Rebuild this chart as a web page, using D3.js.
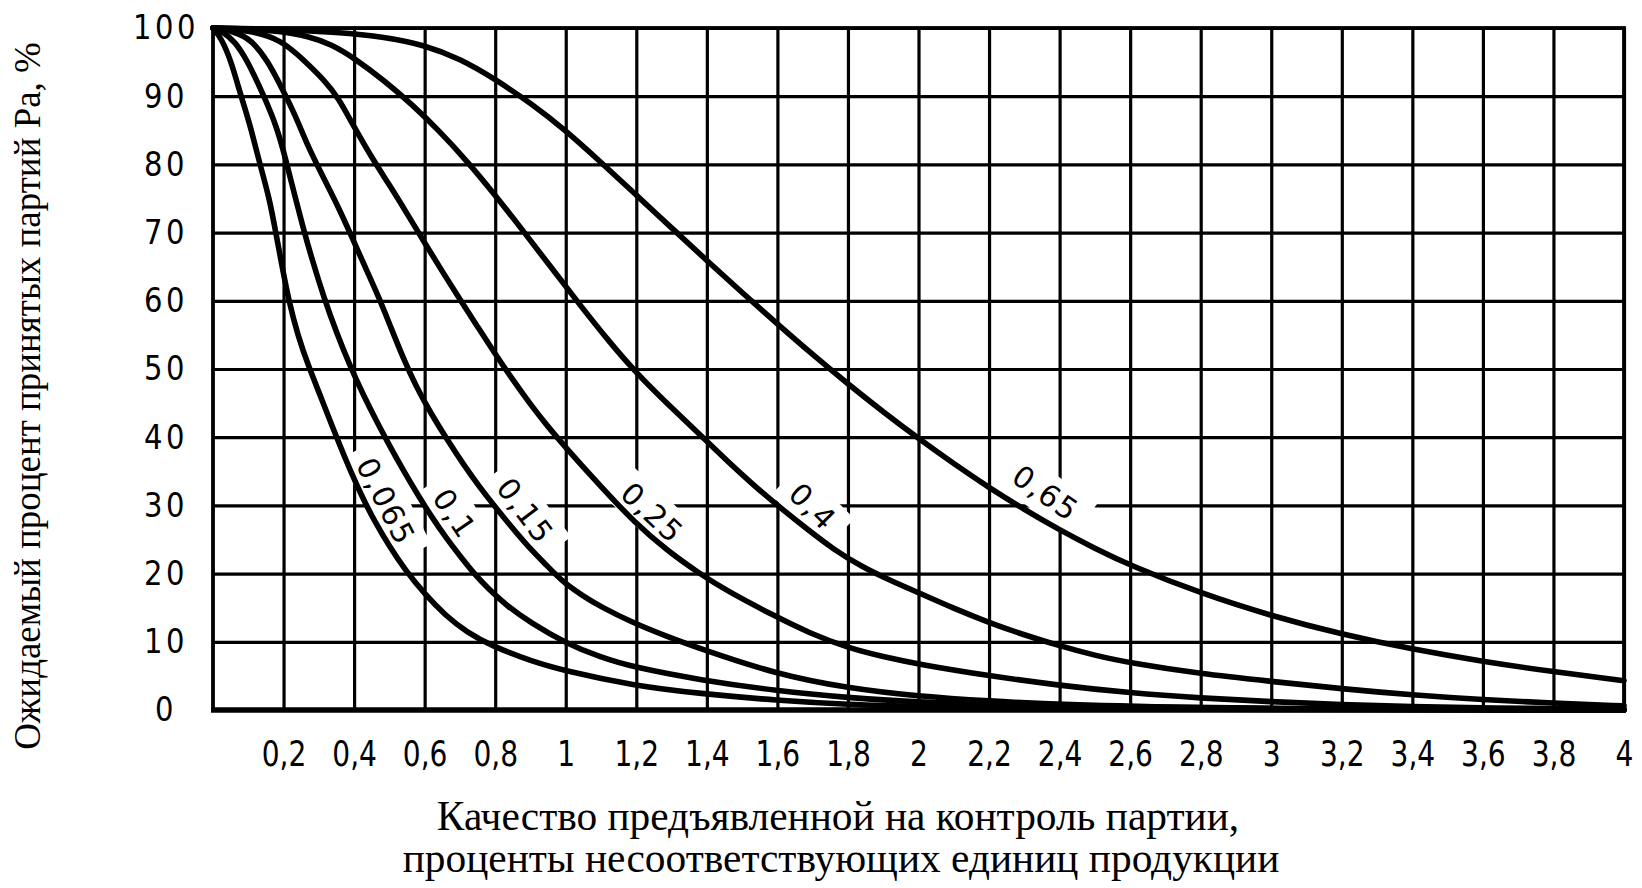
<!DOCTYPE html>
<html><head><meta charset="utf-8">
<script src="https://cdn.jsdelivr.net/npm/d3@7"></script>
<style>
html,body{margin:0;padding:0;background:#fff;}
svg{display:block;}
</style></head>
<body>
<svg id="chart" width="1642" height="888"></svg>
<script>
// ---- data ----
const xTicks = [0.2,0.4,0.6,0.8,1,1.2,1.4,1.6,1.8,2,2.2,2.4,2.6,2.8,3,3.2,3.4,3.6,3.8,4];
const xTickLabels = ["0,2","0,4","0,6","0,8","1","1,2","1,4","1,6","1,8","2","2,2","2,4","2,6","2,8","3","3,2","3,4","3,6","3,8","4"];
const yTicks = [0,10,20,30,40,50,60,70,80,90,100];
const yTickLabels = ["0","10","20","30","40","50","60","70","80","90","100"];
const curveNames = ["0,065","0,1","0,15","0,25","0,4","0,65"];

const aql0065 = [[0,100],[0.024,98.5],[0.052,95],[0.071,91.5],[0.09,88.3],[0.109,85],[0.133,80],[0.16,75],[0.178,70],[0.196,65],[0.215,60],[0.24,55],[0.27,50.5],[0.305,46],[0.35,40],[0.39,35],[0.425,31],[0.46,27.5],[0.5,24],[0.545,20.5],[0.6,17],[0.66,13.8],[0.72,11.4],[0.79,9.4],[0.9,7.2],[1.0,5.7],[1.19,3.6],[1.38,2.4],[1.6,1.4],[1.8,0.8],[2.0,0.5],[2.4,0.2],[3.0,0.05],[4,0]];
const aql01 = [[0,100],[0.03,99.4],[0.062,98],[0.09,95.8],[0.114,93.4],[0.147,89.7],[0.18,85.6],[0.205,81],[0.23,75.8],[0.255,70.8],[0.28,66.2],[0.313,60.7],[0.351,55.2],[0.389,50.4],[0.426,46.2],[0.464,42.3],[0.5,38.8],[0.54,35.1],[0.58,31.6],[0.62,28.3],[0.66,25.3],[0.7,22.6],[0.74,20],[0.78,17.8],[0.83,15.4],[0.9,12.8],[1.0,9.8],[1.1,7.7],[1.19,6.3],[1.38,4.4],[1.6,2.8],[1.8,1.8],[2.0,1.1],[2.4,0.5],[3.0,0.15],[4,0]];
const aql015 = [[0,100],[0.06,99.5],[0.109,98.3],[0.156,95.1],[0.194,91.3],[0.232,87.4],[0.27,82.5],[0.308,78.6],[0.355,73.8],[0.389,69.9],[0.422,66],[0.469,60.7],[0.505,56],[0.54,51.5],[0.575,47.5],[0.62,43.3],[0.663,39.7],[0.71,36],[0.757,32.6],[0.795,30.1],[0.842,27.1],[0.889,24.2],[0.946,21.2],[0.993,18.7],[1.05,16.7],[1.097,15.2],[1.19,12.8],[1.286,10.8],[1.38,9],[1.6,5.2],[1.8,3.2],[2.0,2.0],[2.2,1.3],[2.4,0.8],[2.8,0.3],[3.4,0.05],[4,0]];
const aql025 = [[0,100],[0.1,99.7],[0.194,98.3],[0.261,95.1],[0.318,92.2],[0.355,89.8],[0.4,85.5],[0.45,81],[0.5,77],[0.55,72.8],[0.6,68.5],[0.65,64.3],[0.7,60.2],[0.75,56.2],[0.8,52.2],[0.85,48.4],[0.9,44.8],[0.95,41.5],[1.0,38.5],[1.05,35.6],[1.126,31.3],[1.19,27.8],[1.286,23.4],[1.38,20.0],[1.452,17.6],[1.595,13.7],[1.69,11.3],[1.8,9.1],[1.9,7.8],[2.0,6.7],[2.2,5],[2.4,3.6],[2.6,2.5],[2.8,1.75],[3.0,1.2],[3.2,0.8],[3.4,0.5],[3.6,0.3],[4,0.1]];
const aql04 = [[0,100],[0.1,99.9],[0.194,99.5],[0.27,98.8],[0.336,97.6],[0.4,95.6],[0.488,92.2],[0.564,88.8],[0.64,85],[0.72,80.5],[0.8,75.5],[0.88,70.2],[0.96,64.8],[1.04,59.4],[1.12,54.2],[1.2,49.4],[1.29,44.8],[1.38,40.4],[1.46,36.4],[1.53,33.1],[1.6,30],[1.68,26.7],[1.76,23.5],[1.84,21],[1.92,19],[2.0,17.2],[2.1,14.9],[2.2,12.8],[2.3,11],[2.4,9.4],[2.5,8],[2.6,6.9],[2.8,5.3],[3.0,4.2],[3.2,3.1],[3.4,2.2],[3.6,1.5],[3.8,1.0],[4,0.6]];
const aql065 = [[0,100],[0.2,99.8],[0.35,99.4],[0.488,98.7],[0.6,97.5],[0.7,95.5],[0.8,92.5],[0.9,89],[1.0,85],[1.1,80.3],[1.2,75.5],[1.3,70.7],[1.4,65.9],[1.5,61.2],[1.6,56.6],[1.7,52.1],[1.8,47.8],[1.9,43.7],[2.0,39.8],[2.1,36.1],[2.2,32.6],[2.3,29.4],[2.4,26.4],[2.5,23.7],[2.6,21.2],[2.8,17.1],[3.0,13.8],[3.2,11.1],[3.4,8.9],[3.6,7.1],[3.8,5.6],[4.0,4.3]];
const seriesList = [aql0065, aql01, aql015, aql025, aql04, aql065];

// annotation placement for curve names (data coords + angle)
const labelPlace = [
  {x:0.49, y:30.6, a:63},
  {x:0.685, y:28.8, a:56},
  {x:0.885, y:29.2, a:53},
  {x:1.245, y:28.9, a:43},
  {x:1.70, y:29.8, a:45},
  {x:2.36, y:31.8, a:35}
];

const yTitle = "Ожидаемый процент принятых партий Pa, %";
const xTitle1 = "Качество предъявленной на контроль партии,";
const xTitle2 = "проценты несоответствующих единиц продукции";

// ---- layout ----
const svg = d3.select("#chart");
svg.append("rect").attr("width",1642).attr("height",888).attr("fill","#fff");
const L=213, R=1624, T=28, B=710;
const x = d3.scaleLinear().domain([0,4]).range([L,R]);
const y = d3.scaleLinear().domain([0,100]).range([B,T]);
const tickFont = "'DejaVu Sans', sans-serif";
const serif = "'Liberation Serif', 'Times New Roman', serif";

const gridLayer = svg.append("g");
const knockLayer = svg.append("g");
const curveLayer = svg.append("g");
const labelLayer = svg.append("g");
const textLayer = svg.append("g");

// grid via axes
const gx = gridLayer.append("g").attr("transform",`translate(0,${B})`)
  .call(d3.axisBottom(x).tickValues(xTicks).tickFormat((d,i)=>xTickLabels[i])
        .tickSize(-(B-T)).tickPadding(28));
gx.select(".domain").remove();
gx.selectAll("line").attr("stroke","#000").attr("stroke-width",3.2);
const sxX = 0.78;
gx.selectAll("text").attr("font-family",tickFont)
  .attr("font-size",36).attr("fill","#000").attr("dy","0.35em").attr("y",43)
  .attr("transform",`scale(${sxX},1)`);

const gy = gridLayer.append("g").attr("transform",`translate(${L},0)`)
  .call(d3.axisLeft(y).tickValues(yTicks).tickFormat((d,i)=>yTickLabels[i])
        .tickSize(-(R-L)).tickPadding(35));
gy.select(".domain").remove();
gy.selectAll("line").attr("stroke","#000").attr("stroke-width",3.2);
const sxY = 0.88;
gy.selectAll("text").attr("font-family",tickFont)
  .attr("font-size",33).attr("fill","#000").attr("dy","0.33em").attr("letter-spacing",4)
  .attr("text-anchor","middle").attr("x",-47/sxY)
  .attr("transform",`scale(${sxY},1)`);

// frame
gridLayer.append("rect").attr("x",L).attr("y",T).attr("width",R-L).attr("height",B-T)
  .attr("fill","none").attr("stroke","#000").attr("stroke-width",3.8);
gridLayer.append("line").attr("x1",L-2).attr("x2",R+2).attr("y1",B).attr("y2",B)
  .attr("stroke","#000").attr("stroke-width",5.5);

// curve-name labels with white knockouts behind them
curveNames.forEach((name,i)=>{
  const p = labelPlace[i];
  const tr = `translate(${x(p.x)},${y(p.y)}) rotate(${p.a})`;
  const t = labelLayer.append("text").text(name)
    .attr("font-family",tickFont)
    .attr("font-size",30).attr("letter-spacing",1.5)
    .attr("text-anchor","middle").attr("dy","0.35em").attr("fill","#000")
    .attr("transform",tr);
  const w = t.node().getComputedTextLength();
  knockLayer.append("rect")
    .attr("x",-w/2-12).attr("y",-21).attr("width",w+24).attr("height",42)
    .attr("fill","#fff").attr("transform",tr);
});

// curves
const line = d3.line().x(d=>x(d[0])).y(d=>y(d[1])).curve(d3.curveBasis);
curveLayer.selectAll("path").data(seriesList).join("path")
  .attr("d",line).attr("fill","none").attr("stroke","#000")
  .attr("stroke-width",5.6).attr("stroke-linejoin","round").attr("stroke-linecap","round");

// titles
const yt = textLayer.append("text").text(yTitle)
  .attr("font-family",serif).attr("font-size",34).attr("fill","#000")
  .attr("text-anchor","middle").attr("dy","0.35em")
  .attr("transform","translate(27,396) rotate(-90)");
let w0 = yt.node().getComputedTextLength();
yt.attr("font-size",34*708/w0);

const t1 = textLayer.append("text").text(xTitle1)
  .attr("font-family",serif).attr("font-size",34).attr("fill","#000")
  .attr("text-anchor","middle").attr("x",838).attr("y",830);
const t2 = textLayer.append("text").text(xTitle2)
  .attr("font-family",serif).attr("font-size",34).attr("fill","#000")
  .attr("text-anchor","middle").attr("x",841).attr("y",872);
let w2 = t2.node().getComputedTextLength();
const fs = 34*877/w2;
t1.attr("font-size",fs); t2.attr("font-size",fs);
</script>
</body></html>
